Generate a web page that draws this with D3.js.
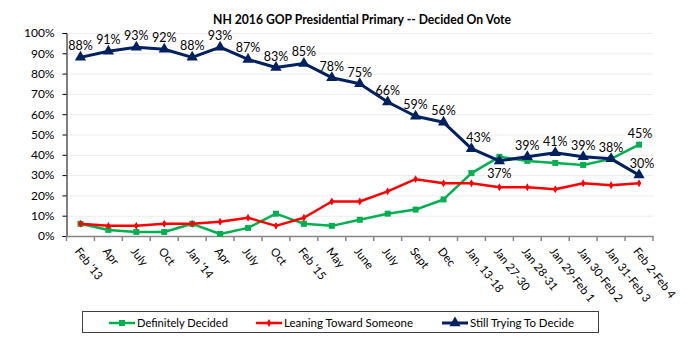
<!DOCTYPE html>
<html>
<head>
<meta charset="utf-8">
<script src="https://cdn.jsdelivr.net/npm/d3@7"></script>
<style>
    body { margin: 0; background: #fff; }
    svg { display: block; font-family: Lato, "Open Sans", sans-serif; }
</style>
</head>
<body>
<svg class="chart-decided" width="697" height="342"></svg>
<script>

var categories = ["Feb '13", "Apr", "July", "Oct", "Jan '14", "Apr", "July", "Oct", "Feb '15", "May", "June", "July", "Sept", "Dec", "Jan. 13-18", "Jan 27-30", "Jan 28-31", "Jan 29-Feb 1", "Jan 30-Feb 2", "Jan 31-Feb 3", "Feb 2-Feb 4"];
var definitelyDecided = [6, 3, 2, 2, 6, 1, 4, 11, 6, 5, 8, 11, 13, 18, 31, 39, 37, 36, 35, 38, 45];
var leaningToward = [6, 5, 5, 6, 6, 7, 9, 5, 9, 17, 17, 22, 28, 26, 26, 24, 24, 23, 26, 25, 26];
var stillTrying = [88, 91, 93, 92, 88, 93, 87, 83, 85, 78, 75, 66, 59, 56, 43, 37, 39, 41, 39, 38, 30];
var yTicks = [0, 10, 20, 30, 40, 50, 60, 70, 80, 90, 100];

var series = [
    {"name": "Definitely Decided", "values": definitelyDecided, "color": "#00b050", "symbol": d3.symbolSquare, "size": 36, "width": 2.5},
    {"name": "Leaning Toward Someone", "values": leaningToward, "color": "#ff0000", "symbol": d3.symbolDiamond, "size": 18, "width": 2.5},
    {"name": "Still Trying To Decide", "values": stillTrying, "color": "#002060", "symbol": d3.symbolTriangle, "size": 55, "width": 3}
];

var plotLeft = 66.5;
var plotRight = 653;
var plotTop = 33;
var plotBottom = 236;

var svg = d3.select(".chart-decided");

var x = d3.scaleBand().domain(d3.range(categories.length)).range([plotLeft, plotRight]);
var y = d3.scaleLinear().domain([0, 100]).range([plotBottom, plotTop]);

var cx = function(i) {

    return x(i) + x.bandwidth() / 2;

};

// title
svg.append("text").attr("x", 362).attr("y", 24).attr("text-anchor", "middle")
    .attr("font-size", 12.5).attr("font-weight", "bold").attr("fill", "#000")
    .attr("textLength", 298).attr("lengthAdjust", "spacingAndGlyphs")
    .text("NH 2016 GOP Presidential Primary -- Decided On Vote");

// gridlines
svg.append("g").selectAll("line").data(yTicks.slice(1)).enter().append("line")
    .attr("x1", plotLeft).attr("x2", plotRight)
    .attr("y1", function(d) { return y(d) + 0.5; })
    .attr("y2", function(d) { return y(d) + 0.5; })
    .attr("stroke", "#ececec").attr("stroke-width", 1);

// y axis
var yAxis = svg.append("g").attr("transform", "translate(" + plotLeft + ",0)")
    .call(d3.axisLeft(y).tickValues(yTicks).tickSize(4).tickPadding(8).tickFormat(function(d) {

        return d + "%";

    }));

yAxis.select(".domain").attr("stroke", "#000");
yAxis.selectAll(".tick line").attr("stroke", "#000");
yAxis.selectAll("text").attr("font-size", 12).attr("fill", "#000").attr("font-family", "Lato, sans-serif");

// x axis
var xAxis = svg.append("g").attr("transform", "translate(0," + plotBottom + ")")
    .call(d3.axisBottom(x).tickSize(0).tickFormat(function(d) {

        return categories[d];

    }));

xAxis.select(".domain").attr("stroke", "#868686").attr("stroke-width", 1.5);

xAxis.selectAll(".tick text").attr("font-size", 11.5).attr("fill", "#000").attr("font-family", "Lato, sans-serif")
    .attr("text-anchor", "start").attr("dy", "0.35em")
    .attr("transform", "translate(-3,13) rotate(52)").attr("y", 0).attr("x", 0);

xAxis.append("g").selectAll("line").data(d3.range(categories.length + 1)).enter().append("line")
    .attr("x1", function(d) { return d < categories.length ? x(d) : plotRight; })
    .attr("x2", function(d) { return d < categories.length ? x(d) : plotRight; })
    .attr("y1", 0).attr("y2", 5)
    .attr("stroke", "#868686").attr("stroke-width", 1.5);

// lines and markers
var line = d3.line().x(function(d, i) {

    return cx(i);

}).y(function(d) {

    return y(d);

});

series.forEach(function(s) {

    var g = svg.append("g");

    g.append("path").attr("d", line(s.values)).attr("fill", "none")
        .attr("stroke", s.color).attr("stroke-width", s.width).attr("stroke-linejoin", "round");

    g.selectAll("path.marker").data(s.values).enter().append("path").attr("class", "marker")
        .attr("d", d3.symbol().type(s.symbol).size(s.size))
        .attr("transform", function(d, i) {

            return "translate(" + cx(i) + "," + y(d) + ")";

        }).attr("fill", s.color);

});

// data labels
var labels = svg.append("g").attr("font-size", 12.5).attr("fill", "#000").attr("text-anchor", "middle");

labels.selectAll("text").data(stillTrying).enter().append("text")
    .attr("x", function(d, i) {

        return cx(i) + (i == 14 ? 7 : i == 20 ? 3 : 0);

    }).attr("y", function(d, i) {

        return i == 15 ? y(d) + 17 : y(d) - 7;

    }).text(function(d) {

        return d + "%";

    });

var last = categories.length - 1;

labels.append("text").attr("x", cx(last) + 1).attr("y", y(definitelyDecided[last]) - 7)
    .text(definitelyDecided[last] + "%");

// legend
var legend = svg.append("g");

legend.append("rect").attr("x", 82.5).attr("y", 311.5).attr("width", 516).attr("height", 21)
    .attr("fill", "#fff").attr("stroke", "#404040").attr("stroke-width", 1);

var legendX = [109, 256, 442];
var legendWidth = [91, 129, 104];

var item = legend.selectAll(".legend").data(series).enter().append("g").attr("class", "legend")
    .attr("transform", function(d, i) {

        return "translate(" + legendX[i] + ",323)";

    });

item.append("line").attr("x1", 0).attr("x2", 26).attr("y1", 0).attr("y2", 0)
    .attr("stroke", function(d) { return d.color; })
    .attr("stroke-width", function(d) { return d.width; });

item.append("path").attr("d", function(d) {

    return d3.symbol().type(d.symbol).size(d.size)();

}).attr("transform", "translate(13,0)").attr("fill", function(d) { return d.color; });

item.append("text").attr("x", 28).attr("y", 4).attr("font-size", 11.5).attr("fill", "#000")
    .attr("textLength", function(d, i) { return legendWidth[i]; }).attr("lengthAdjust", "spacingAndGlyphs")
    .text(function(d) {

        return d.name;

    });

</script>
</body>
</html>
